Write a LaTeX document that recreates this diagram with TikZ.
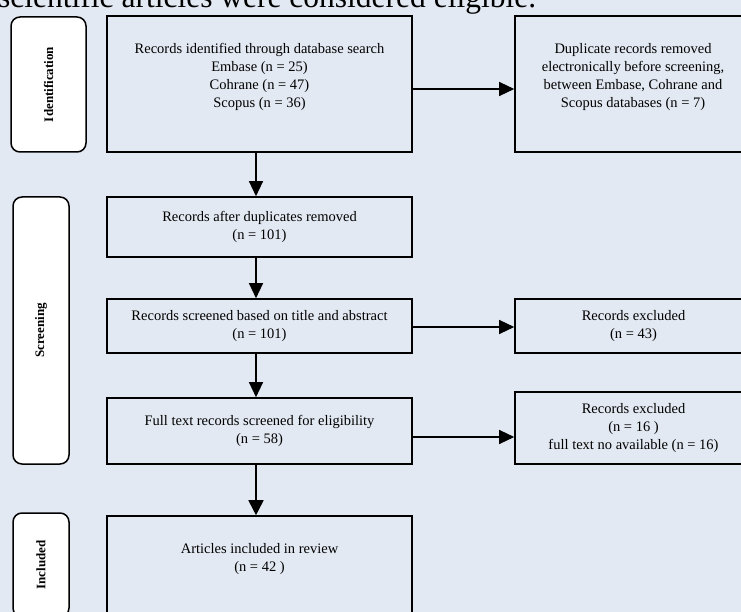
\documentclass[tikz,border=0pt]{standalone}
\usepackage{fontspec}
\setmainfont{Liberation Serif}
\usetikzlibrary{arrows.meta}
\definecolor{bg}{RGB}{227,233,242}
\begin{document}
\begin{tikzpicture}[x=1pt,y=-1pt,
  box/.style={draw=black, line width=1.6pt, inner sep=0pt},
  lab/.style={draw=black, fill=white, rounded corners=9pt, line width=1.5pt, inner sep=0pt,
    font=\fontsize{13}{15}\selectfont\bfseries},
  txt/.style={font=\fontsize{14.5}{18}\selectfont, align=center, inner sep=0pt},
  arr/.style={-{Triangle[length=15pt,width=14pt]}, line width=1.3pt},
  arrb/.style={-{Triangle[length=15pt,width=15pt]}, line width=1.7pt}]
\useasboundingbox (0,0) rectangle (741,612);
\clip (0,0) rectangle (741,612);
\fill[bg] (0,0) rectangle (741,612);
% cropped caption line from the page
\node[anchor=base west, inner sep=0pt, font=\fontsize{31.5}{36}\selectfont] (title) at (-2,8) {scientific articles were considered eligible.};
% phase labels
\node[lab, rotate=90, minimum width=135pt, minimum height=75pt] (ident) at (48.5,84.5) {Identification};
\node[lab, rotate=90, minimum width=267pt, minimum height=56pt] (scr) at (41,330.5) {Screening};
\node[lab, rotate=90, minimum width=104pt, minimum height=56pt] (inc) at (41,565) {Included};
% boxes
\node[box, minimum width=305pt, minimum height=136pt] (A) at (259.5,84) {};
\node[txt, anchor=north] (At) at (259.5,43.2) {Records identified through database search\\Embase (n = 25)\\Cohrane (n = 47)\\Scopus (n = 36)};
\node[box, minimum width=237pt, minimum height=136pt] (B) at (633.5,84) {};
\node[txt, anchor=north] (Bt) at (633,43.2) {Duplicate records removed\\electronically before screening,\\between Embase, Cohrane and\\Scopus databases (n = 7)};
\node[box, txt, minimum width=305pt, minimum height=60pt] (C) at (259.5,227) {Records after duplicates removed\\(n = 101)};
\node[box, txt, minimum width=305pt, minimum height=54pt] (D) at (259.5,326) {Records screened based on title and abstract\\(n = 101)};
\node[box, txt, minimum width=237pt, minimum height=54pt] (E) at (633.5,326) {Records excluded\\(n = 43)};
\node[box, txt, minimum width=305pt, minimum height=66pt] (F) at (259.5,431) {Full text records screened for eligibility\\(n = 58)};
\node[box, txt, minimum width=237pt, minimum height=72pt] (H) at (633.5,428) {Records excluded\\(n = 16 )\\full text no available (n = 16)};
\node[box, minimum width=305pt, minimum height=114pt] (G) at (259.5,573) {};
\node[txt, anchor=north] (Gt) at (259.5,543.2) {Articles included in review\\(n = 42 )};
% connectors
\draw[arr] ([yshift=-5pt]A.east) coordinate (a1) -- (a1 -| B.west);
\draw[arr] ([xshift=-3.5pt]A.south) coordinate (a2) -- (a2 |- C.north);
\draw[arr] ([xshift=-3.5pt]C.south) coordinate (a3) -- (a3 |- D.north);
\draw[arr] ([yshift=-1pt]D.east) coordinate (a4) -- (a4 -| E.west);
\draw[arr] ([xshift=-3.5pt]D.south) coordinate (a5) -- (a5 |- F.north);
\draw[arr] ([yshift=-6pt]F.east) coordinate (a6) -- (a6 -| H.west);
\draw[arrb] ([xshift=-3.5pt]F.south) coordinate (a7) -- (a7 |- G.north);
\end{tikzpicture}
\end{document}
